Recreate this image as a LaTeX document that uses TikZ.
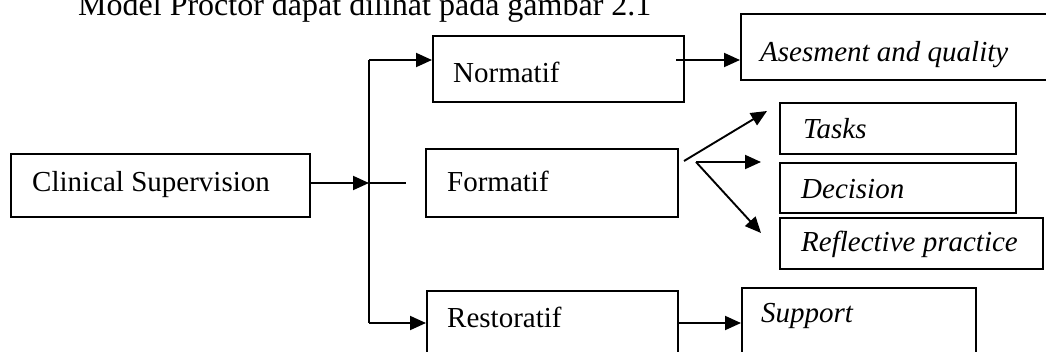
\documentclass[tikz,border=0pt]{standalone}
\usepackage{fontspec}
\setmainfont{Liberation Serif}
\usetikzlibrary{arrows.meta}
\begin{document}
\begin{tikzpicture}[x=1pt,y=-1pt,
  box/.style={draw, line width=1.5pt, inner sep=0pt, anchor=north west},
  lbl/.style={inner sep=0pt, anchor=base west, font=\fontsize{29}{34}\selectfont},
  ilbl/.style={lbl, font=\fontsize{29}{34}\selectfont\itshape},
  link/.style={line width=1.9pt},
  arr/.style={link, -{Triangle[length=16pt,width=14pt]}}]
\useasboundingbox (0,0) rectangle (1046,351);
\clip (0,0) rectangle (1046,351);

% heading line above the figure
\node[lbl, font=\fontsize{32}{38}\selectfont] (title) at (78,15) {Model Proctor dapat dilihat pada gambar 2.1};

% boxes
\node[box, minimum width=299pt, minimum height=63pt] (cs)    at (10,153)  {};
\node[box, minimum width=251pt, minimum height=66pt] (norm)  at (432,35)  {};
\node[box, minimum width=330pt, minimum height=66pt] (ases)  at (740,13)  {};
\node[box, minimum width=252pt, minimum height=68pt] (form)  at (425,148) {};
\node[box, minimum width=236pt, minimum height=51pt] (tasks) at (779,102) {};
\node[box, minimum width=236pt, minimum height=50pt] (dec)   at (779,162) {};
\node[box, minimum width=263pt, minimum height=51pt] (refl)  at (779,217) {};
\node[box, minimum width=251pt, minimum height=90pt] (resto) at (426,290) {};
\node[box, minimum width=234pt, minimum height=90pt] (supp)  at (741,287) {};

% labels
\node[lbl]  (tcs)    at (32,191)  {Clinical Supervision};
\node[lbl]  (tnorm)  at (453,82)  {Normatif};
\node[ilbl] (tases)  at (760,61)  {Asesment and quality};
\node[lbl]  (tform)  at (447,191) {Formatif};
\node[ilbl] (ttasks) at (803,138) {Tasks};
\node[ilbl] (tdec)   at (801,198) {Decision};
\node[ilbl] (trefl)  at (801,251) {Reflective practice};
\node[lbl]  (tresto) at (447,327) {Restoratif};
\node[ilbl] (tsupp)  at (761,322) {Support};

% trunk and branches
\coordinate (j)    at (369,183);
\coordinate (jtop) at (369,60);
\coordinate (jbot) at (369,323);
\coordinate (stub) at (406,183);
\draw[arr]  (cs.east |- j) -- (j);
\draw[link] (j) -- (stub);
\draw[link] (jtop) -- (jbot);
\draw[arr]  (jtop) -- (jtop -| norm.west);
\draw[arr]  (jbot) -- (jbot -| resto.west);

% right-hand connectors
\coordinate (nout) at (676,60);
\draw[arr] (nout) -- (nout -| ases.west);
\draw[arr] (resto.east |- jbot) -- (jbot -| supp.west);

\coordinate (fa)  at (684,161);
\coordinate (fb)  at (696,162);
\coordinate (ta)  at (767,111);
\coordinate (tb)  at (761,162);
\coordinate (tc)  at (761,233);
\draw[arr] (fa) -- (ta);
\draw[arr] (fb) -- (tb);
\draw[arr] (fb) -- (tc);
\end{tikzpicture}
\end{document}
